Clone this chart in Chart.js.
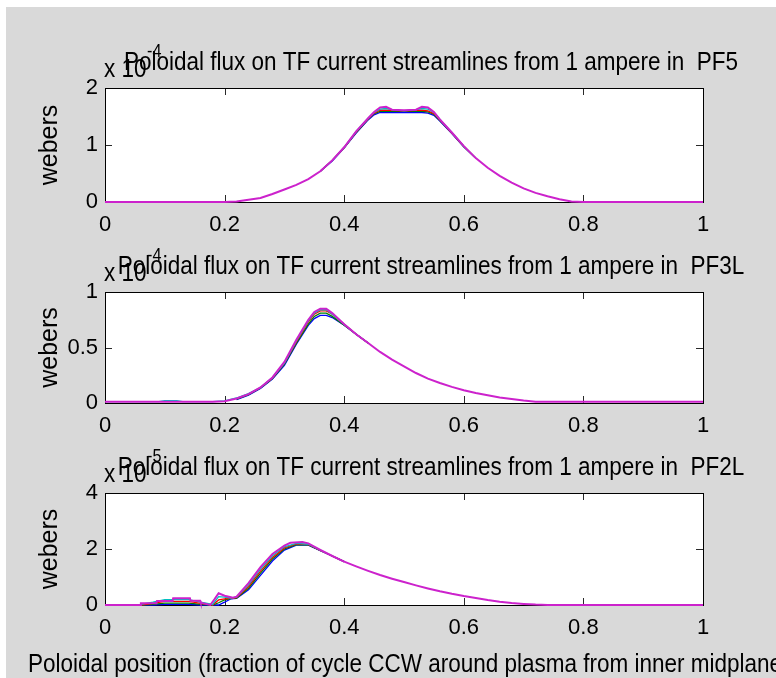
<!DOCTYPE html>
<html>
<head>
<meta charset="utf-8">
<script src="https://cdn.jsdelivr.net/npm/chart.js@4.4.1/dist/chart.umd.min.js"></script>
<style>
  html, body { margin: 0; padding: 0; background: #fff; }
  #fig { position: relative; width: 776px; height: 678px; overflow: hidden; }
  #bg { position: absolute; left: 6px; top: 7px; right: 0; bottom: 0; background: #d9d9d9; }
  canvas { position: absolute; left: 0; top: 0; }
</style>
</head>
<body>
<div id="fig">
  <div id="bg"></div>
  <canvas id="pf5Chart" width="776" height="678"></canvas>
  <canvas id="pf3lChart" width="776" height="678"></canvas>
  <canvas id="pf2lChart" width="776" height="678"></canvas>
</div>
<script>
// --- Dados ---
const xTicks = [0, 0.2, 0.4, 0.6, 0.8, 1];
const xTickLabels = ["0", "0.2", "0.4", "0.6", "0.8", "1"];

// PF5, unidades de 1e-4 Wb
const pf5Ticks = [0, 1, 2];
const pf5TickLabels = ["0", "1", "2"];
const pf5X = [0, 0.1, 0.2, 0.22, 0.24, 0.26, 0.28, 0.30, 0.32, 0.34, 0.36, 0.38, 0.40, 0.42, 0.44,
  0.45, 0.46, 0.47, 0.48, 0.50, 0.52, 0.53, 0.54, 0.55, 0.56, 0.58, 0.60, 0.62, 0.64, 0.66,
  0.68, 0.70, 0.72, 0.74, 0.76, 0.78, 0.8, 0.9, 1.0];
const pf5Magenta = [0, 0, 0, 0.01, 0.04, 0.07, 0.14, 0.22, 0.30, 0.40, 0.54, 0.73, 0.96, 1.24, 1.47,
  1.58, 1.66, 1.67, 1.62, 1.61, 1.62, 1.67, 1.66, 1.58, 1.45, 1.22, 0.98, 0.77, 0.60, 0.46,
  0.34, 0.24, 0.16, 0.10, 0.05, 0.01, 0, 0, 0];
const pf5PeakX = [0.36, 0.38, 0.40, 0.42, 0.44, 0.45, 0.46, 0.47, 0.48, 0.50, 0.52, 0.53, 0.54,
  0.55, 0.56, 0.58, 0.60, 0.62];
const pf5Cyan = [0.54, 0.73, 0.96, 1.24, 1.47, 1.57, 1.63, 1.64, 1.62, 1.60, 1.62, 1.64, 1.63,
  1.57, 1.45, 1.22, 0.98, 0.77];
const pf5Red = [0.54, 0.73, 0.96, 1.23, 1.46, 1.56, 1.61, 1.61, 1.61, 1.60, 1.61, 1.61, 1.60,
  1.55, 1.44, 1.21, 0.98, 0.77];
const pf5Green = [0.54, 0.73, 0.95, 1.22, 1.45, 1.55, 1.59, 1.59, 1.59, 1.59, 1.59, 1.59, 1.58,
  1.54, 1.43, 1.21, 0.97, 0.77];
const pf5Blue = [0.54, 0.72, 0.95, 1.21, 1.44, 1.53, 1.57, 1.57, 1.57, 1.57, 1.57, 1.57, 1.56,
  1.52, 1.42, 1.20, 0.97, 0.77];

// PF3L, unidades de 1e-4 Wb
const pf3lTicks = [0, 0.5, 1];
const pf3lTickLabels = ["0", "0.5", "1"];
const pf3lX = [0, 0.18, 0.20, 0.22, 0.24, 0.26, 0.28, 0.30, 0.32, 0.34, 0.35, 0.36, 0.37, 0.38,
  0.40, 0.42, 0.44, 0.46, 0.48, 0.50, 0.52, 0.54, 0.56, 0.58, 0.60, 0.62, 0.64, 0.66, 0.68,
  0.70, 0.72, 0.8, 1.0];
const pf3lMagenta = [0.012, 0.012, 0.015, 0.04, 0.08, 0.14, 0.23, 0.37, 0.57, 0.75, 0.82, 0.85, 0.85, 0.81,
  0.71, 0.62, 0.54, 0.46, 0.39, 0.33, 0.27, 0.22, 0.18, 0.145, 0.115, 0.09, 0.07, 0.05, 0.035,
  0.022, 0.012, 0.012, 0.012];
const pf3lCyanX = [0, 0.09, 0.10, 0.12, 0.13, 0.18, 0.20, 0.22, 0.24, 0.26, 0.28, 0.30, 0.32, 0.34,
  0.35, 0.36, 0.37, 0.38, 0.40, 0.42, 0.44];
const pf3lCyan = [0.012, 0.012, 0.022, 0.022, 0.012, 0.012, 0.02, 0.045, 0.085, 0.14, 0.23, 0.36, 0.56, 0.74,
  0.81, 0.84, 0.84, 0.80, 0.71, 0.62, 0.54];
const pf3lPeakX = [0.22, 0.24, 0.26, 0.28, 0.30, 0.32, 0.34, 0.35, 0.36, 0.37, 0.38, 0.40, 0.42, 0.44];
const pf3lRed = [0.04, 0.08, 0.14, 0.225, 0.36, 0.55, 0.73, 0.80, 0.83, 0.83, 0.80, 0.71, 0.62, 0.54];
const pf3lGreen = [0.035, 0.075, 0.135, 0.22, 0.35, 0.54, 0.71, 0.78, 0.81, 0.81, 0.78, 0.70, 0.62, 0.54];
const pf3lBlue = [0.03, 0.07, 0.13, 0.215, 0.34, 0.53, 0.70, 0.76, 0.79, 0.79, 0.77, 0.70, 0.62, 0.54];

// PF2L, unidades de 1e-5 Wb
const pf2lTicks = [0, 2, 4];
const pf2lTickLabels = ["0", "2", "4"];
const pf2lX = [0, 0.059, 0.06, 0.086, 0.087, 0.113, 0.114, 0.142, 0.143, 0.159, 0.16, 0.176,
  0.183, 0.19, 0.20, 0.214, 0.22, 0.24, 0.26, 0.28, 0.30, 0.31, 0.33, 0.34, 0.36, 0.38, 0.40,
  0.42, 0.44, 0.46, 0.48, 0.50, 0.52, 0.54, 0.56, 0.58, 0.60, 0.62, 0.64, 0.66, 0.68, 0.70,
  0.72, 0.74, 1.0];
const pf2lMagenta = [0, 0, 0.06, 0.06, 0.14, 0.14, 0.24, 0.24, 0.15, 0.15, 0.08, 0,
  0.2, 0.42, 0.33, 0.26, 0.3, 0.78, 1.35, 1.82, 2.12, 2.22, 2.25, 2.2, 1.97, 1.75, 1.55,
  1.38, 1.22, 1.07, 0.94, 0.82, 0.70, 0.59, 0.49, 0.40, 0.32, 0.25, 0.18, 0.12, 0.07, 0.04,
  0.015, 0, 0];
const pf2lSideX = [0, 0.06, 0.08, 0.10, 0.12, 0.14, 0.16, 0.18, 0.19, 0.20, 0.21, 0.22, 0.24,
  0.26, 0.28, 0.30, 0.32, 0.34, 0.36, 0.38, 0.40];
const pf2lCyan = [0, 0.02, 0.1, 0.19, 0.19, 0.19, 0.1, 0.02, 0.3, 0.28, 0.25, 0.28, 0.72,
  1.28, 1.76, 2.08, 2.2, 2.17, 1.96, 1.75, 1.55];
const pf2lRed = [0, 0, 0.06, 0.13, 0.13, 0.13, 0.06, 0, 0.18, 0.22, 0.24, 0.26, 0.66,
  1.21, 1.7, 2.04, 2.18, 2.16, 1.95, 1.75, 1.55];
const pf2lGreen = [0, 0, 0.02, 0.07, 0.07, 0.07, 0.02, 0, 0.08, 0.18, 0.23, 0.25, 0.6,
  1.14, 1.64, 2.0, 2.16, 2.15, 1.95, 1.75, 1.55];
const pf2lBlue = [0, 0, 0, 0.02, 0.02, 0.02, 0, 0, 0, 0.1, 0.22, 0.24, 0.54,
  1.06, 1.57, 1.96, 2.14, 2.14, 1.94, 1.75, 1.55];

const FONT = "'Liberation Sans', Arial, sans-serif";
const COLORS = { m: "#cc22cc", c: "#00bfbf", r: "#ff0000", g: "#008000", b: "#0000ff" };

// junta x e y em pontos
const pts = (xs, ys) => xs.map((x, i) => ({ x: x, y: ys[i] }));

// texto comprimido na horizontal, como na figura original
function squeezedText(ctx, text, x, y, size, align) {
  ctx.save();
  ctx.font = size + "px " + FONT;
  ctx.textAlign = align;
  ctx.textBaseline = "alphabetic";
  ctx.translate(x, y);
  ctx.scale(0.9, 1);
  ctx.fillText(text, 0, 0);
  ctx.restore();
}

// Moldura estilo MATLAB: caixa, ticks internos, titulo, expoente, rotulos
const matlabFrame = {
  id: "matlabFrame",
  beforeDraw(chart) {
    const { ctx, chartArea: a } = chart;
    ctx.save();
    ctx.fillStyle = "#ffffff";
    ctx.fillRect(a.left, a.top, a.right - a.left, a.bottom - a.top);
    ctx.restore();
  },
  beforeDatasetsDraw(chart) {
    const { ctx, chartArea: a, scales } = chart;
    ctx.save();
    ctx.strokeStyle = "#2a2a2a";
    ctx.lineWidth = 1;
    ctx.beginPath();
    scales.x.ticks.forEach((t) => {
      const px = Math.round(scales.x.getPixelForValue(t.value)) + 0.5;
      ctx.moveTo(px, a.bottom); ctx.lineTo(px, a.bottom - 7);
      ctx.moveTo(px, a.top); ctx.lineTo(px, a.top + 7);
    });
    scales.y.ticks.forEach((t) => {
      const py = Math.round(scales.y.getPixelForValue(t.value)) + 0.5;
      ctx.moveTo(a.left, py); ctx.lineTo(a.left + 7, py);
      ctx.moveTo(a.right, py); ctx.lineTo(a.right - 7, py);
    });
    ctx.stroke();
    ctx.strokeStyle = "#000000";
    ctx.strokeRect(a.left + 0.5, a.top + 0.5, a.right - a.left, a.bottom - a.top);
    ctx.restore();
  },
  afterDraw(chart, args, opts) {
    const { ctx, chartArea: a } = chart;
    ctx.save();
    ctx.fillStyle = "#000000";
    // expoente do eixo y
    squeezedText(ctx, "x 10", a.left - 1, a.top - 11, 25, "left");
    squeezedText(ctx, opts.exponent, a.left + 42, a.top - 31, 18, "left");
    // titulo
    squeezedText(ctx, opts.title, 431, a.top - 18, 25, "center");
    // rotulo y
    ctx.save();
    ctx.font = "25px " + FONT;
    ctx.textAlign = "center";
    ctx.textBaseline = "alphabetic";
    ctx.translate(57, (a.top + a.bottom) / 2);
    ctx.rotate(-Math.PI / 2);
    ctx.fillText("webers", 0, 0);
    ctx.restore();
    // rotulo x (so no ultimo grafico)
    if (opts.xlabel) {
      squeezedText(ctx, opts.xlabel, 28, 672, 25, "left");
    }
    ctx.restore();
  },
};

function makeChart(id, cfg) {
  const datasets = cfg.series.map((s) => ({
    data: pts(s.x, s.y),
    borderColor: s.color,
    borderWidth: s.width,
    pointRadius: 0,
    tension: 0,
    fill: false,
    clip: 6,
  }));

  return new Chart(document.getElementById(id), {
    type: "line",
    data: { datasets: datasets },
    plugins: [matlabFrame],
    options: {
      responsive: false,
      animation: false,
      events: [],
      layout: { padding: { left: 0, right: 73, top: cfg.top, bottom: 678 - cfg.bottom - 30 } },
      plugins: {
        legend: { display: false },
        tooltip: { enabled: false },
        matlabFrame: { title: cfg.title, exponent: cfg.exponent, xlabel: cfg.xlabel },
      },
      scales: {
        x: {
          type: "linear",
          min: 0,
          max: 1,
          grid: { display: false, drawTicks: false },
          border: { display: false },
          afterBuildTicks: (s) => { s.ticks = xTicks.map((v) => ({ value: v })); },
          afterFit: (s) => { s.height = 30; },
          ticks: {
            autoSkip: false,
            maxRotation: 0,
            padding: 10,
            color: "#000",
            font: { family: FONT, size: 22 },
            callback: (v) => xTickLabels[xTicks.indexOf(v)],
          },
        },
        y: {
          type: "linear",
          min: cfg.ticks[0],
          max: cfg.ticks[cfg.ticks.length - 1],
          grid: { display: false, drawTicks: false },
          border: { display: false },
          afterBuildTicks: (s) => { s.ticks = cfg.ticks.map((v) => ({ value: v })); },
          afterFit: (s) => { s.width = 105; },
          ticks: {
            padding: 7,
            color: "#000",
            font: { family: FONT, size: 22 },
            callback: (v) => cfg.tickLabels[cfg.ticks.indexOf(v)],
          },
        },
      },
    },
  });
}

// magenta primeiro = desenhado por cima
makeChart("pf5Chart", {
  top: 88, bottom: 202,
  title: "Poloidal flux on TF current streamlines from 1 ampere in  PF5",
  exponent: "-4",
  ticks: pf5Ticks, tickLabels: pf5TickLabels,
  series: [
    { x: pf5X, y: pf5Magenta, color: COLORS.m, width: 2 },
    { x: pf5PeakX, y: pf5Cyan, color: COLORS.c, width: 1.3 },
    { x: pf5PeakX, y: pf5Red, color: COLORS.r, width: 1.3 },
    { x: pf5PeakX, y: pf5Green, color: COLORS.g, width: 1.3 },
    { x: pf5PeakX, y: pf5Blue, color: COLORS.b, width: 1.3 },
  ],
});

makeChart("pf3lChart", {
  top: 292, bottom: 403,
  title: "Poloidal flux on TF current streamlines from 1 ampere in  PF3L",
  exponent: "-4",
  ticks: pf3lTicks, tickLabels: pf3lTickLabels,
  series: [
    { x: pf3lX, y: pf3lMagenta, color: COLORS.m, width: 2 },
    { x: pf3lCyanX, y: pf3lCyan, color: COLORS.c, width: 1.3 },
    { x: pf3lPeakX, y: pf3lRed, color: COLORS.r, width: 1.3 },
    { x: pf3lPeakX, y: pf3lGreen, color: COLORS.g, width: 1.3 },
    { x: pf3lPeakX, y: pf3lBlue, color: COLORS.b, width: 1.3 },
  ],
});

makeChart("pf2lChart", {
  top: 493, bottom: 605,
  title: "Poloidal flux on TF current streamlines from 1 ampere in  PF2L",
  exponent: "-5",
  xlabel: "Poloidal position (fraction of cycle CCW around plasma from inner midplane)",
  ticks: pf2lTicks, tickLabels: pf2lTickLabels,
  series: [
    { x: pf2lX, y: pf2lMagenta, color: COLORS.m, width: 2 },
    { x: pf2lSideX, y: pf2lCyan, color: COLORS.c, width: 1.3 },
    { x: pf2lSideX, y: pf2lRed, color: COLORS.r, width: 1.3 },
    { x: pf2lSideX, y: pf2lGreen, color: COLORS.g, width: 1.3 },
    { x: pf2lSideX, y: pf2lBlue, color: COLORS.b, width: 1.3 },
  ],
});
</script>
</body>
</html>
